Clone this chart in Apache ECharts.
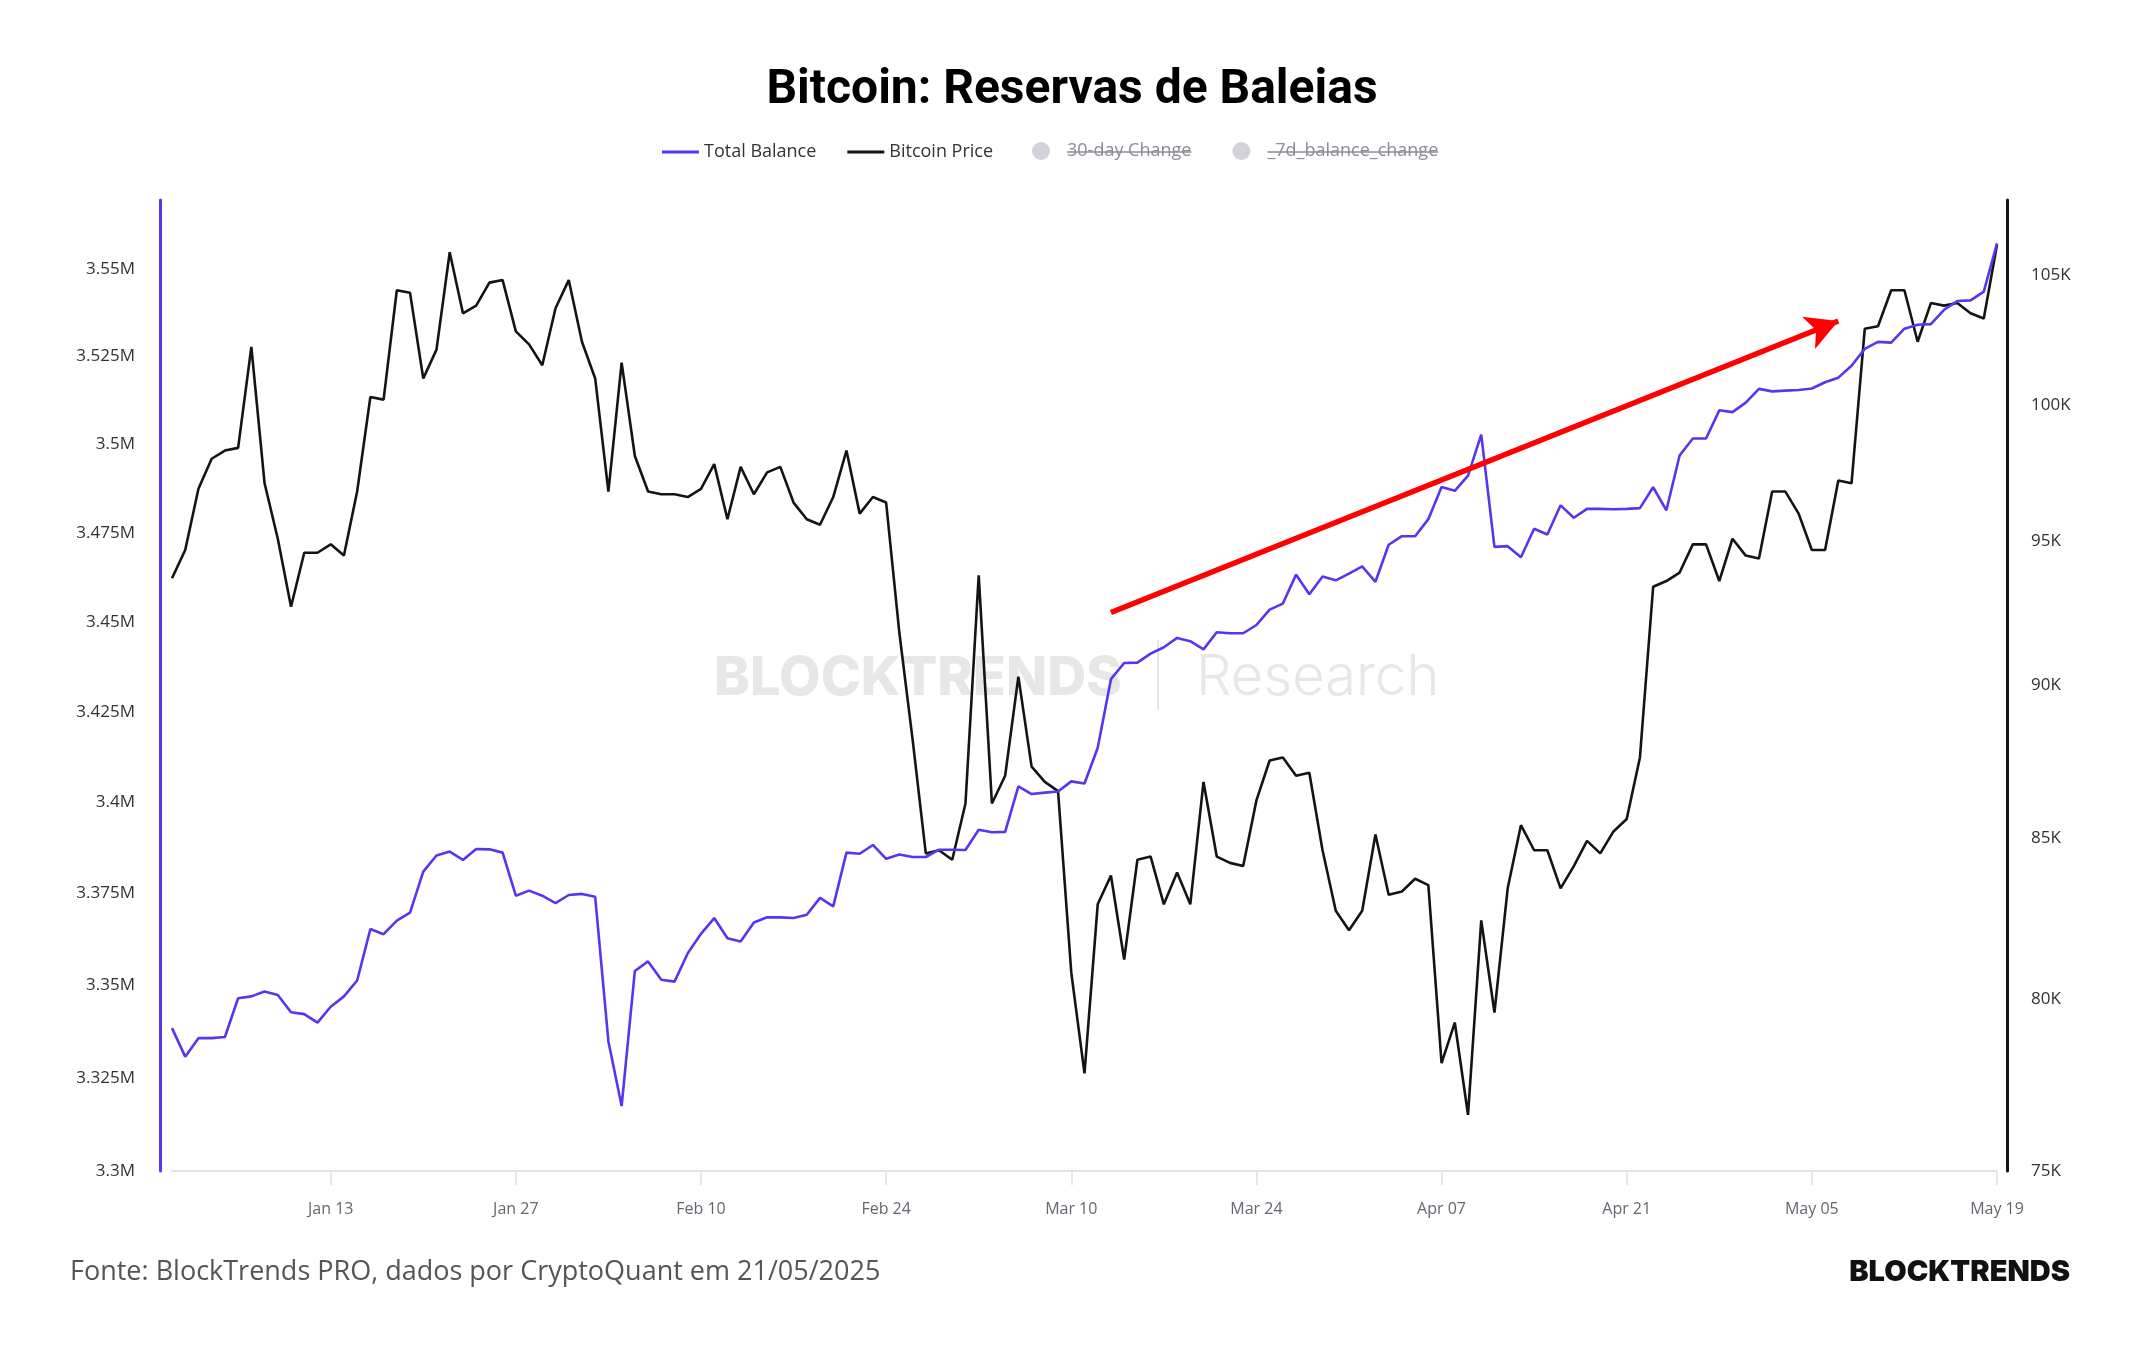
<!DOCTYPE html>
<html>
<head>
<meta charset="utf-8">
<title>Bitcoin: Reservas de Baleias</title>
<script src="https://cdn.jsdelivr.net/npm/echarts@6.0.0/dist/echarts.min.js"></script>
<style>
  html, body { margin: 0; padding: 0; background: #fff; }
  #main { width: 2144px; height: 1350px; }
</style>
</head>
<body>
<div id="main"></div>
<script>
// one point per day, from 2025-01-01 to 2025-05-19
const startDate = '2025-01-01';
const monthNames = ['Jan', 'Feb', 'Mar', 'Apr', 'May', 'Jun'];
const tickLabels = ['Jan 13', 'Jan 27', 'Feb 10', 'Feb 24', 'Mar 10', 'Mar 24', 'Apr 07', 'Apr 21', 'May 05', 'May 19'];

// total balance of whale wallets (millions BTC)
const totalBalance = [
  3.3384, 3.3307, 3.3357, 3.3357, 3.3360, 3.3465, 3.3470, 3.3483, 3.3474, 3.3427,
  3.3422, 3.3399, 3.3442, 3.3470, 3.3513, 3.3653, 3.3639, 3.3676, 3.3698, 3.3810,
  3.3854, 3.3865, 3.3842, 3.3872, 3.3871, 3.3862, 3.3744, 3.3758, 3.3744, 3.3724,
  3.3746, 3.3749, 3.3741, 3.3348, 3.3174, 3.3539, 3.3565, 3.3515, 3.3510, 3.3587,
  3.3640, 3.3683, 3.3628, 3.3619, 3.3671, 3.3685, 3.3685, 3.3683, 3.3692, 3.3738,
  3.3715, 3.3862, 3.3859, 3.3883, 3.3845, 3.3857, 3.3850, 3.3850, 3.3870, 3.3870,
  3.3869, 3.3925, 3.3918, 3.3919, 3.4044, 3.4023, 3.4027, 3.4030, 3.4058, 3.4052,
  3.4151, 3.4341, 3.4386, 3.4387, 3.4412, 3.4430, 3.4456, 3.4447, 3.4424, 3.4472,
  3.4469, 3.4469, 3.4492, 3.4535, 3.4552, 3.4633, 3.4578, 3.4628, 3.4617, 3.4636,
  3.4656, 3.4613, 3.4717, 3.4741, 3.4741, 3.4789, 3.4880, 3.4869, 3.4912, 3.5028,
  3.4711, 3.4713, 3.4682, 3.4762, 3.4746, 3.4828, 3.4793, 3.4818, 3.4818, 3.4817,
  3.4818, 3.4820, 3.4879, 3.4814, 3.4969, 3.5017, 3.5017, 3.5097, 3.5092, 3.5119,
  3.5158, 3.5151, 3.5153, 3.5155, 3.5159, 3.5177, 3.5190, 3.5224, 3.5272, 3.5292,
  3.5290, 3.5330, 3.5341, 3.5343, 3.5384, 3.5409, 3.5411, 3.5436, 3.5575
];

// bitcoin price (thousands USD)
const btcPrice = [
  93.7, 94.7, 96.9, 98.0, 98.3, 98.4, 102.2, 97.1, 95.1, 92.7,
  94.6, 94.6, 94.9, 94.5, 96.8, 100.3, 100.2, 104.4, 104.3, 101.0,
  102.1, 105.9, 103.5, 103.8, 104.7, 104.8, 102.8, 102.3, 101.5, 103.7,
  104.8, 102.4, 101.0, 96.8, 101.6, 98.1, 96.8, 96.7, 96.7, 96.6,
  96.9, 97.8, 95.8, 97.7, 96.7, 97.5, 97.7, 96.4, 95.8, 95.6,
  96.6, 98.3, 96.0, 96.6, 96.4, 91.8, 88.2, 84.5, 84.6, 84.3,
  86.1, 93.8, 86.1, 87.0, 90.3, 87.3, 86.8, 86.5, 80.8, 77.8,
  82.9, 83.8, 81.2, 84.3, 84.4, 82.9, 83.9, 82.9, 86.8, 84.4,
  84.2, 84.1, 86.2, 87.5, 87.6, 87.0, 87.1, 84.6, 82.7, 82.1,
  82.7, 85.1, 83.2, 83.3, 83.7, 83.5, 78.1, 79.3, 76.6, 82.4,
  79.6, 83.4, 85.4, 84.6, 84.6, 83.4, 84.1, 84.9, 84.5, 85.2,
  85.6, 87.6, 93.4, 93.6, 93.9, 94.9, 94.9, 93.6, 95.1, 94.5,
  94.4, 96.8, 96.8, 96.0, 94.7, 94.7, 97.2, 97.1, 102.9, 103.0,
  104.4, 104.4, 102.4, 103.9, 103.8, 103.9, 103.5, 103.3, 106.2
];

const balanceTicks = [3.3, 3.325, 3.35, 3.375, 3.4, 3.425, 3.45, 3.475, 3.5, 3.525, 3.55];
const priceTicks = [75, 80, 85, 90, 95, 100, 105];

// red trend arrow drawn on the balance axis: [day index, balance]
const trendStart = [71, 3.4527];
const trendEnd = [126, 3.5352];

// series that are switched off in the original legend (no data shown)
const hiddenSeries = ['30-day Change', '_7d_balance_change'];

// build the date categories
const dates = [];
const d0 = new Date(startDate + 'T00:00:00Z');
for (let i = 0; i < totalBalance.length; i++) {
  const d = new Date(d0.getTime() + i * 86400000);
  dates.push(monthNames[d.getUTCMonth()] + ' ' + String(d.getUTCDate()).padStart(2, '0'));
}

const BLUE = '#5437ee';
const BLACK = '#141414';
const OFF = '#d2d2dc';
const lineIcon = 'path://M0,0L37,0L37,3L0,3Z';

const chart = echarts.init(document.getElementById('main'));

chart.setOption({
  animation: false,
  backgroundColor: '#ffffff',
  title: {
    text: 'Bitcoin: Reservas de Baleias',
    left: 'center',
    top: 67,
    padding: 0,
    textStyle: { fontFamily: 'Roboto', fontWeight: 'bold', fontSize: 48, color: '#000' }
  },
  legend: [
    {
      left: 662,
      top: 143,
      padding: 0,
      itemWidth: 37,
      itemHeight: 16,
      itemGap: 31,
      symbolKeepAspect: true,
      textStyle: { fontFamily: 'Open Sans', fontSize: 18, color: '#333' },
      data: [
        { name: 'Total Balance', icon: lineIcon },
        { name: 'Bitcoin Price', icon: lineIcon }
      ]
    },
    {
      left: 1032,
      top: 142,
      padding: 0,
      itemWidth: 42,
      itemHeight: 18,
      itemGap: 41,
      textStyle: { fontFamily: 'Open Sans', fontSize: 18, color: '#8c8c98' },
      data: hiddenSeries.map(function (n) { return { name: n, icon: 'circle' }; })
    }
  ],
  grid: { left: 172, right: 147, top: 200, bottom: 179, containLabel: false },
  xAxis: {
    type: 'category',
    data: dates,
    boundaryGap: false,
    axisLine: { lineStyle: { color: '#e2e2ea', width: 2 } },
    axisTick: {
      show: true,
      length: 14,
      lineStyle: { color: '#e6e6ee', width: 2 },
      interval: function (idx, val) { return tickLabels.indexOf(val) >= 0; }
    },
    axisLabel: {
      interval: function (idx, val) { return tickLabels.indexOf(val) >= 0; },
      margin: 30,
      color: '#666670',
      fontFamily: 'Open Sans',
      fontSize: 16
    },
    splitLine: { show: false }
  },
  yAxis: [
    {
      type: 'log',
      logBase: 10,
      position: 'left',
      offset: 12,
      min: 3.3,
      max: 3.57,
      axisLine: { show: true, lineStyle: { color: BLUE, width: 3 } },
      axisTick: { show: false },
      splitLine: { show: false },
      minorTick: { show: false },
      axisLabel: {
        customValues: balanceTicks,
        margin: 25,
        color: '#333',
        fontFamily: 'Open Sans',
        fontSize: 17,
        formatter: function (v) { return parseFloat((+v).toFixed(3)) + 'M'; }
      }
    },
    {
      type: 'log',
      logBase: 10,
      position: 'right',
      offset: 10,
      min: 75,
      max: 108,
      axisLine: { show: true, lineStyle: { color: BLACK, width: 3 } },
      axisTick: { show: false },
      splitLine: { show: false },
      minorTick: { show: false },
      axisLabel: {
        customValues: priceTicks,
        margin: 24,
        color: '#333',
        fontFamily: 'Open Sans',
        fontSize: 17,
        formatter: function (v) { return Math.round(v) + 'K'; }
      }
    }
  ],
  series: [
    {
      name: 'Total Balance',
      type: 'line',
      yAxisIndex: 0,
      data: totalBalance,
      symbol: 'none',
      color: BLUE,
      lineStyle: { color: BLUE, width: 2.6 },
      z: 3,
      markLine: {
        silent: true,
        symbol: ['none', 'arrow'],
        symbolSize: [26, 32],
        label: { show: false },
        lineStyle: { color: '#ff0000', width: 5.5, type: 'solid' },
        itemStyle: { color: '#ff0000' },
        data: [[{ coord: trendStart }, { coord: trendEnd }]]
      }
    },
    {
      name: 'Bitcoin Price',
      type: 'line',
      yAxisIndex: 1,
      data: btcPrice,
      symbol: 'none',
      color: BLACK,
      lineStyle: { color: BLACK, width: 2.6 },
      z: 2
    },
    { name: hiddenSeries[0], type: 'line', yAxisIndex: 0, data: [], color: OFF },
    { name: hiddenSeries[1], type: 'line', yAxisIndex: 0, data: [], color: OFF }
  ],
  graphic: [
    // watermark
    {
      id: 'wm1', type: 'text', left: 714, top: 652, z: 0, silent: true,
      style: { text: 'BLOCKTRENDS', fill: '#e7e7e7', font: '800 54px Inter' }
    },
    {
      id: 'wm2', type: 'rect', left: 1157, top: 640, z: 0, silent: true,
      shape: { width: 2, height: 70 }, style: { fill: '#e7e7e7' }
    },
    {
      id: 'wm3', type: 'text', left: 1196, top: 650, z: 0, silent: true,
      style: { text: 'Research', fill: '#e7e7e7', font: '300 56px Inter' }
    },
    // footer
    {
      id: 'src', type: 'text', left: 70, top: 1259,
      style: { text: 'Fonte: BlockTrends PRO, dados por CryptoQuant em 21/05/2025', fill: '#555', font: '27px "Open Sans"' }
    },
    {
      id: 'brand', type: 'text', right: 74, top: 1258,
      style: { text: 'BLOCKTRENDS', fill: '#111', font: '900 29px Inter' }
    }
  ]
});

// strike through the switched-off legend names, where the legend actually drew them
const strikes = [];
const seen = {};
chart.getZr().storage.getDisplayList(true).forEach(function (el) {
  const txt = el.style && el.style.text;
  if (hiddenSeries.indexOf(txt) < 0 || seen[txt]) return;
  seen[txt] = true;
  const r = el.getBoundingRect().clone();
  r.applyTransform(el.getComputedTransform());
  const y = Math.round(r.y + r.height / 2) + 1;
  strikes.push({
    id: 'strike' + strikes.length,
    type: 'line', z: 10, silent: true,
    shape: { x1: r.x, y1: y, x2: r.x + r.width, y2: y },
    style: { stroke: '#8c8c98', lineWidth: 1.3 }
  });
});
if (strikes.length) {
  chart.setOption({ graphic: strikes });
}
</script>
</body>
</html>
